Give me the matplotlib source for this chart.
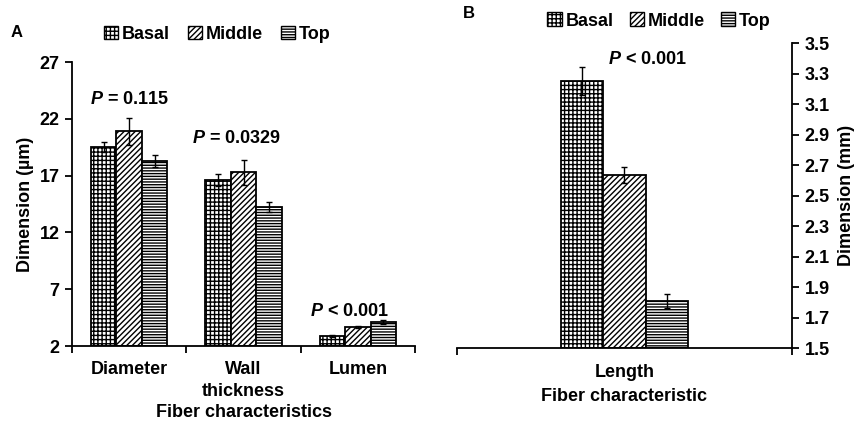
import numpy as np
import matplotlib
matplotlib.use("Agg")
import matplotlib.pyplot as plt
from matplotlib.patches import Patch

plt.rcParams['font.family'] = ['Liberation Sans', 'DejaVu Sans']
plt.rcParams['font.weight'] = 'bold'
plt.rcParams['mathtext.fontset'] = 'custom'
plt.rcParams['mathtext.bfit'] = 'Liberation Sans:italic:bold'
plt.rcParams['hatch.linewidth'] = 1.0

# data
positions = ["Basal", "Middle", "Top"]
fiber_a = ["Diameter", "Wall\nthickness", "Lumen"]
basal_a = [19.5, 16.6, 2.9]
middle_a = [20.9, 17.3, 3.67]
top_a = [18.3, 14.25, 4.08]
basal_a_err = [0.45, 0.5, 0.1]
middle_a_err = [1.2, 1.1, 0.08]
top_a_err = [0.5, 0.45, 0.18]
p_a = ["= 0.115", "= 0.0329", "< 0.001"]

fiber_b = ["Length"]
length_b = [3.25, 2.636, 1.81]
length_b_err = [0.09, 0.05, 0.045]
p_b = "< 0.001"

hatches = ["++++", "//////", "------"]
FS = 13

fig = plt.figure(figsize=(8.55, 4.23), dpi=100)

# ---- panel A
ax = fig.add_axes([0.0842, 0.182, 0.4012, 0.6714])
x = np.arange(len(fiber_a))
w = 0.222
series = [(basal_a, basal_a_err), (middle_a, middle_a_err), (top_a, top_a_err)]
for i, (vals, errs) in enumerate(series):
    ax.bar(x + (i - 1) * w, np.array(vals) - 2, w, bottom=2, color='white',
           edgecolor='black', linewidth=1.3, hatch=hatches[i], zorder=2)
    ax.errorbar(x + (i - 1) * w, vals, yerr=errs, fmt='none', ecolor='black',
                elinewidth=1, capsize=2.5, capthick=1, zorder=3)
ax.set_xlim(-0.5, 2.5)
ax.set_ylim(2, 27)
ax.set_yticks([2, 7, 12, 17, 22, 27])
ax.set_xticks(x)
ax.set_xticklabels(fiber_a, fontsize=FS, fontweight='bold', linespacing=1.35)
ax.set_xticks([-0.5, 0.5, 1.5, 2.5], minor=True)
ax.tick_params(axis='x', which='major', length=0, pad=11)
ax.tick_params(axis='x', which='minor', length=5, width=1.3, direction='out')
ax.tick_params(axis='y', length=5, width=1.3, labelsize=FS, pad=4)
for s in ['top', 'right']:
    ax.spines[s].set_visible(False)
for s in ['left', 'bottom']:
    ax.spines[s].set_linewidth(1.3)
ax.set_ylabel("Dimension (µm)", fontsize=FS, fontweight='bold', labelpad=4)
ax.set_xlabel("Fiber characteristics", fontsize=FS, fontweight='bold', labelpad=3)
p_pos = [(0.0, 23.7), (0.94, 20.3), (1.93, 5.0)]
for (px, py), txt in zip(p_pos, p_a):
    ax.text(px, py, r"$\mathbfit{P}$ " + txt, ha='center', va='center',
            fontsize=FS, fontweight='bold')

handles = [Patch(facecolor='white', edgecolor='black', hatch=h, linewidth=1) for h in hatches]
ax.legend(handles, positions, loc='center', bbox_to_anchor=(0.423, 1.098), ncol=3,
          frameon=False, fontsize=FS, handlelength=0.8, handleheight=0.8,
          handletextpad=0.2, columnspacing=1.0, borderpad=0)
fig.text(0.012, 0.924, "A", fontsize=12, fontweight='bold', va='center')

# ---- panel B
bx = fig.add_axes([0.5345, 0.1766, 0.3918, 0.7217])
wb = 0.127
for i, v in enumerate(length_b):
    bx.bar((i - 1) * wb, v - 1.5, wb, bottom=1.5, color='white', edgecolor='black',
           linewidth=1.3, hatch=hatches[i], zorder=2)
    bx.errorbar((i - 1) * wb, v, yerr=length_b_err[i], fmt='none', ecolor='black',
                elinewidth=1, capsize=2.5, capthick=1, zorder=3)
bx.set_xlim(-0.5, 0.5)
bx.set_ylim(1.5, 3.5)
bx.set_yticks(np.arange(1.5, 3.51, 0.2))
bx.set_yticklabels([f"{t:.1f}" for t in np.arange(1.5, 3.51, 0.2)])
bx.yaxis.tick_right()
bx.yaxis.set_label_position('right')
bx.set_xticks([0])
bx.set_xticklabels(fiber_b, fontsize=FS, fontweight='bold')
bx.set_xticks([-0.5, 0.5], minor=True)
bx.tick_params(axis='x', which='major', length=0, pad=11)
bx.tick_params(axis='x', which='minor', length=5, width=1.3, direction='out')
bx.tick_params(axis='y', length=5, width=1.3, labelsize=FS, pad=4)
for s in ['top', 'left']:
    bx.spines[s].set_visible(False)
for s in ['right', 'bottom']:
    bx.spines[s].set_linewidth(1.3)
bx.set_ylabel("Dimension (mm)", fontsize=FS, fontweight='bold', rotation=90, labelpad=6)
bx.set_xlabel("Fiber characteristic", fontsize=FS, fontweight='bold', labelpad=5)
bx.text(0.07, 3.39, r"$\mathbfit{P}$ " + p_b, ha='center', va='center',
        fontsize=FS, fontweight='bold')
bx.legend(handles, positions, loc='center', bbox_to_anchor=(0.603, 1.072), ncol=3,
          frameon=False, fontsize=FS, handlelength=0.8, handleheight=0.8,
          handletextpad=0.2, columnspacing=0.9, borderpad=0)
fig.text(0.541, 0.967, "B", fontsize=12, fontweight='bold', va='center')

fig.savefig("out.png", dpi=100)
